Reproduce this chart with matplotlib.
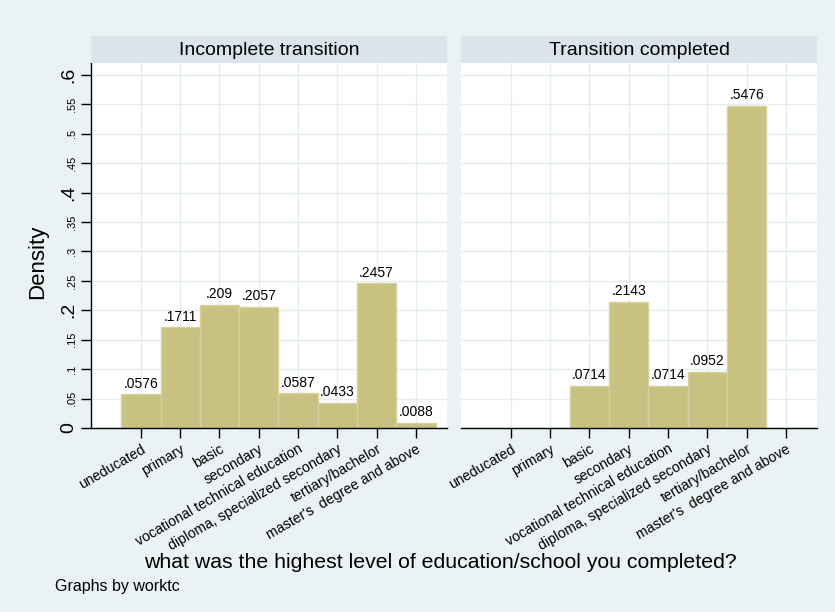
import matplotlib
matplotlib.use('Agg')
import matplotlib.pyplot as plt
import numpy as np
from matplotlib.ticker import FixedLocator, FixedFormatter

plt.rcParams['font.family'] = ['Liberation Sans', 'DejaVu Sans']

# education levels (coded 1..8) and density per group
categories = ["uneducated", "primary", "basic", "secondary",
              "vocational technical education", "diploma, specialized secondary",
              "tertiary/bachelor", "master's  degree and above"]
codes = [1, 2, 3, 4, 5, 6, 7, 8]
groups = ["Incomplete transition", "Transition completed"]
density_incomplete = [0.0576, 0.1711, 0.209, 0.2057, 0.0587, 0.0433, 0.2457, 0.0088]
density_completed = [0.0, 0.0, 0.0714, 0.2143, 0.0714, 0.0952, 0.5476, 0.0]

major_y = [0, 0.2, 0.4, 0.6]
minor_y = [0.05, 0.1, 0.15, 0.25, 0.3, 0.35, 0.45, 0.5, 0.55]

BG = '#EAF2F3'
STRIP = '#D9E5EA'
GRID = '#E4EDF1'
BAR = '#C8C17F'
BAR_EDGE = '#D6D1A2'


def stata_fmt(v):
    # .2090 -> .209, 0 -> 0
    if v == 0:
        return "0"
    s = f"{v:.4f}".rstrip('0').rstrip('.')
    return s[1:] if s.startswith('0') else s


W, H = 835, 612
fig = plt.figure(figsize=(W / 100, H / 100), dpi=100)
fig.patch.set_facecolor(BG)

ax_left_px = [91, 461]
ax_w = 356
ax_top, ax_bot = 63, 428

for i, (name, vals) in enumerate(zip(groups, [density_incomplete, density_completed])):
    x0 = ax_left_px[i]
    ax = fig.add_axes([x0 / W, 1 - ax_bot / H, ax_w / W, (ax_bot - ax_top) / H])
    ax.set_facecolor('white')

    # strip title above each panel
    sax = fig.add_axes([x0 / W, 1 - ax_top / H, ax_w / W, 27 / H])
    sax.set_facecolor(STRIP)
    sax.set_xticks([])
    sax.set_yticks([])
    for sp in sax.spines.values():
        sp.set_visible(False)
    sax.text(0.5, 0.45, name, ha='center', va='center', fontsize=14, transform=sax.transAxes)

    for y in major_y[1:] + minor_y:
        ax.axhline(y, color=GRID, lw=1.0, zorder=0)
    for c in codes:
        ax.axvline(c, color=GRID, lw=1.0, zorder=0)

    vals = np.array(vals)
    cx = np.array(codes)
    nz = vals > 0
    ax.bar(cx[nz], vals[nz], width=1.0, color=BAR, edgecolor=BAR_EDGE, linewidth=1.0, zorder=2)
    for c, v in zip(cx[nz], vals[nz]):
        ax.annotate(stata_fmt(v), (c, v), xytext=(0, 2.5), textcoords='offset points',
                    ha='center', va='bottom', fontsize=10, zorder=3)

    ax.set_xlim(-0.27, 8.79)
    ax.set_ylim(0, 0.62)

    ax.set_xticks(codes)
    ax.set_xticklabels(categories, rotation=30, ha='right', va='top',
                       rotation_mode='anchor', fontsize=10.2)
    ax.tick_params(axis='x', length=7, width=1, direction='out', pad=3)

    for sp in ['top', 'right']:
        ax.spines[sp].set_visible(False)
    ax.spines['bottom'].set_linewidth(1.0)

    if i == 0:
        ax.yaxis.set_major_locator(FixedLocator(major_y))
        ax.yaxis.set_major_formatter(FixedFormatter([stata_fmt(v) for v in major_y]))
        ax.yaxis.set_minor_locator(FixedLocator(minor_y))
        ax.yaxis.set_minor_formatter(FixedFormatter([stata_fmt(v) for v in minor_y]))
        ax.tick_params(axis='y', which='major', length=7, width=1, labelsize=14, pad=3)
        ax.tick_params(axis='y', which='minor', length=7, width=1, labelsize=8, pad=3)
        for lab in ax.get_yticklabels(which='both'):
            lab.set_rotation(90)
            lab.set_va('center')
        ax.spines['left'].set_linewidth(1.0)
    else:
        ax.spines['left'].set_visible(False)
        ax.set_yticks([])

fig.text(38 / W, 1 - 262 / H, "Density", rotation=90, ha='center', va='center', fontsize=16)
fig.text(440 / W, 1 - 563 / H, "what was the highest level of education/school you completed?",
         ha='center', va='center', fontsize=15.3)
fig.text(55 / W, 1 - 587 / H, "Graphs by worktc", ha='left', va='center', fontsize=11.5)

fig.savefig('out.png', dpi=100, facecolor=fig.get_facecolor())
